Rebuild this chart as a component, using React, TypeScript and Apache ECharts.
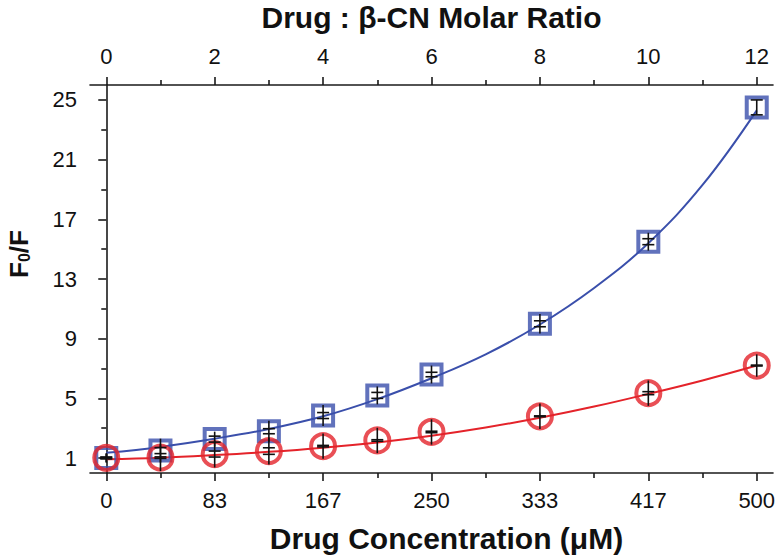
import React, { useEffect, useRef } from "react";
import * as echarts from "echarts";

// Drug : β-CN molar ratio of each measured point
const ratios = [0, 1, 2, 3, 4, 5, 6, 8, 10, 12];
// F0/F values (blue squares and red circles)
const blueValues = [1.0, 1.5, 2.27, 2.8, 3.85, 5.2, 6.6, 10.0, 15.5, 24.5];
const redValues = [1.02, 1.03, 1.27, 1.47, 1.8, 2.18, 2.75, 3.8, 5.35, 7.2];
// error bar whisker half-lengths and cap half-distances
const blueWhisker = [0.3, 0.8, 0.5, 0.7, 0.7, 0.6, 0.6, 0.65, 0.6, 0.5];
const blueCap = [0.05, 0.2, 0.2, 0.17, 0.2, 0.2, 0.15, 0.2, 0.2, 0.5];
const redWhisker = [0.3, 0.9, 0.9, 0.9, 0.85, 0.85, 0.85, 0.85, 0.85, 0.75];
const redCap = [0.05, 0.05, 0.2, 0.22, 0.05, 0.05, 0.05, 0.03, 0.1, 0.03];

// fitted curves
const fitRatios = [0, 1, 2, 3, 4, 5, 6, 7, 8, 9, 10, 11, 12];
const blueFit = [1.35, 1.75, 2.3, 2.95, 3.8, 4.95, 6.35, 7.95, 9.95, 12.4, 15.4, 19.3, 24.3];
const redFit = [0.92, 1.02, 1.2, 1.42, 1.7, 2.05, 2.5, 3.05, 3.7, 4.45, 5.3, 6.2, 7.2];

// axis ticks
const ratioMajorTicks = [0, 2, 4, 6, 8, 10, 12];
const ratioMinorTicks = [1, 3, 5, 7, 9, 11];
const yMajorTicks = [1, 5, 9, 13, 17, 21, 25];
const yMinorTicks = [3, 7, 11, 15, 19, 23];
const maxConcentration = 500; // μM at ratio 12
const maxRatio = 12;

const BLUE = "#3a4fab";
const RED = "#e4232a";
const AXIS = "#1a1a1a";
const FONT = "Liberation Sans, Arial, sans-serif";

export default function App() {
  const ref = useRef<HTMLDivElement>(null);

  useEffect(() => {
    if (!ref.current) return;
    const chart = echarts.init(ref.current, undefined, { renderer: "svg" });

    const errRender = (params: any, api: any) => {
      const x = api.value(0);
      const y = api.value(1);
      const w = api.value(2);
      const c = api.value(3);
      const top = api.coord([x, y + w]);
      const bot = api.coord([x, y - w]);
      const c1 = api.coord([x, y + c]);
      const c2 = api.coord([x, y - c]);
      const hw = 6;
      const st = { stroke: "#111", lineWidth: 1.6 };
      return {
        type: "group",
        children: [
          { type: "line", shape: { x1: top[0], y1: top[1], x2: bot[0], y2: bot[1] }, style: st },
          { type: "line", shape: { x1: c1[0] - hw, y1: c1[1], x2: c1[0] + hw, y2: c1[1] }, style: st },
          { type: "line", shape: { x1: c2[0] - hw, y1: c2[1], x2: c2[0] + hw, y2: c2[1] }, style: st },
        ],
      };
    };

    const baseX = {
      type: "value",
      min: -0.3,
      max: 12.3,
      splitLine: { show: false },
      gridIndex: 0,
    };
    const tickLabel = { fontSize: 22, color: "#111", fontFamily: FONT };
    const nameStyle = { fontSize: 30, lineHeight: 30, fontWeight: "bold", color: "#111", fontFamily: FONT };

    chart.setOption({
      animation: false,
      backgroundColor: "#fff",
      grid: { left: 90, right: 6, top: 85, bottom: 84, containLabel: false, outerBoundsMode: "none" },
      xAxis: [
        {
          ...baseX,
          position: "bottom",
          axisLine: { show: true, lineStyle: { color: AXIS, width: 1.6 } },
          axisTick: { show: true, customValues: ratioMajorTicks, length: 8, inside: false, lineStyle: { color: AXIS, width: 1.6 } },
          axisLabel: {
            show: true,
            customValues: ratioMajorTicks,
            margin: 16,
            ...tickLabel,
            formatter: (v: number) => String(Math.round((v * maxConcentration) / maxRatio)),
          },
          name: "Drug Concentration (μM)",
          nameLocation: "middle",
          nameGap: 50,
          nameTextStyle: { ...nameStyle, padding: [0, 0, 0, 30] },
        },
        {
          ...baseX,
          position: "bottom",
          axisLine: { show: false },
          axisTick: { show: true, customValues: ratioMinorTicks, length: 5, lineStyle: { color: AXIS, width: 1.6 } },
          axisLabel: { show: false },
        },
        {
          ...baseX,
          position: "top",
          axisLine: { show: true, lineStyle: { color: AXIS, width: 1.6 } },
          axisTick: { show: true, customValues: ratioMajorTicks, length: 8, lineStyle: { color: AXIS, width: 1.6 } },
          axisLabel: { show: true, customValues: ratioMajorTicks, margin: 18, ...tickLabel },
          name: "Drug : β-CN Molar Ratio",
          nameLocation: "middle",
          nameGap: 53,
          nameTextStyle: nameStyle,
        },
        {
          ...baseX,
          position: "top",
          axisLine: { show: false },
          axisTick: { show: true, customValues: ratioMinorTicks, length: 5, lineStyle: { color: AXIS, width: 1.6 } },
          axisLabel: { show: false },
        },
      ],
      yAxis: [
        {
          type: "value",
          position: "left",
          min: 0,
          max: 26,
          splitLine: { show: false },
          axisLine: { show: true, lineStyle: { color: AXIS, width: 1.6 } },
          axisTick: { show: true, customValues: yMajorTicks, length: 8, lineStyle: { color: AXIS, width: 1.6 } },
          axisLabel: { show: true, customValues: yMajorTicks, margin: 13, ...tickLabel },
          name: "{a|F}{s|0}{a|/F}",
          nameLocation: "middle",
          nameGap: 58,
          nameRotate: 90,
          nameTextStyle: {
            padding: [0, 0, 0, 50],
            rich: {
              a: { fontSize: 26, fontWeight: "bold", color: "#111", fontFamily: FONT, lineHeight: 28, verticalAlign: "bottom" },
              s: { fontSize: 16, fontWeight: "bold", color: "#111", fontFamily: FONT, lineHeight: 13, verticalAlign: "bottom" },
            },
          },
        },
        {
          type: "value",
          position: "left",
          min: 0,
          max: 26,
          splitLine: { show: false },
          axisLine: { show: false },
          axisTick: { show: true, customValues: yMinorTicks, length: 5, lineStyle: { color: AXIS, width: 1.6 } },
          axisLabel: { show: false },
        },
      ],
      series: [
        {
          type: "line",
          smooth: 0.4,
          showSymbol: false,
          symbol: "none",
          data: fitRatios.map((r, i) => [r, blueFit[i]]),
          lineStyle: { color: BLUE, width: 2 },
          z: 2,
        },
        {
          type: "line",
          smooth: 0.4,
          showSymbol: false,
          symbol: "none",
          data: fitRatios.map((r, i) => [r, redFit[i]]),
          lineStyle: { color: RED, width: 2 },
          z: 2,
        },
        {
          type: "scatter",
          symbol: "rect",
          symbolSize: 20,
          data: ratios.map((r, i) => [r, blueValues[i]]),
          itemStyle: { color: "rgba(0,0,0,0)", borderColor: BLUE, borderWidth: 4 },
          z: 3,
        },
        {
          type: "scatter",
          symbol: "circle",
          symbolSize: 24,
          data: ratios.map((r, i) => [r, redValues[i]]),
          itemStyle: { color: "rgba(0,0,0,0)", borderColor: RED, borderWidth: 4 },
          z: 4,
        },
        {
          type: "custom",
          renderItem: errRender,
          data: ratios.map((r, i) => [r, blueValues[i], blueWhisker[i], blueCap[i]]),
          encode: { x: 0, y: 1 },
          z: 5,
        },
        {
          type: "custom",
          renderItem: errRender,
          data: ratios.map((r, i) => [r, redValues[i], redWhisker[i], redCap[i]]),
          encode: { x: 0, y: 1 },
          z: 5,
        },
      ],
    });

    return () => chart.dispose();
  }, []);

  return (
    <div
      ref={ref}
      style={{ position: "fixed", left: 0, top: 0, width: 779, height: 557, background: "#fff" }}
    />
  );
}
